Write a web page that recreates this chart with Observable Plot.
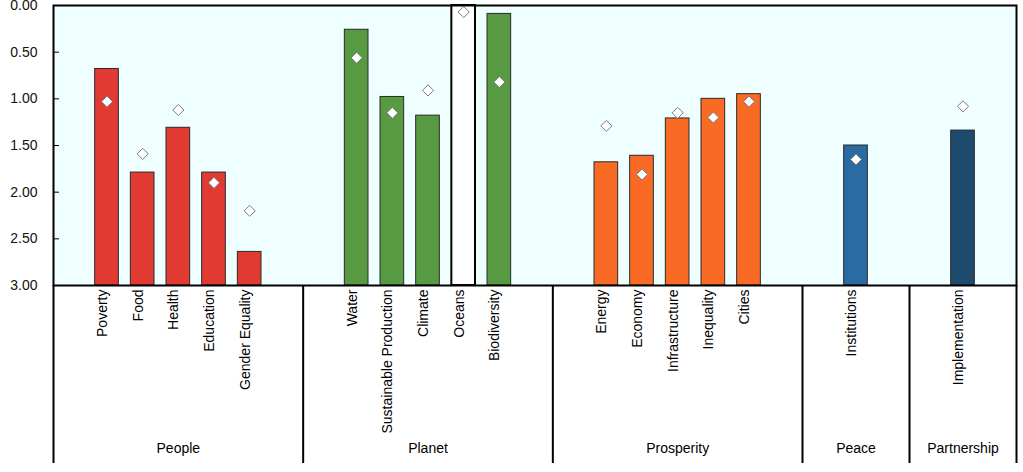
<!DOCTYPE html>
<html>
<head>
<meta charset="utf-8">
<script src="https://cdn.jsdelivr.net/npm/d3@7"></script>
<script src="https://cdn.jsdelivr.net/npm/@observablehq/plot@0.6"></script>
<style>
  html, body { margin: 0; padding: 0; background: white; }
</style>
</head>
<body>
<div id="chart"></div>
<script>
const groups = ["People", "Planet", "Prosperity", "Peace", "Partnership"];
const groupColors = ["#E03A32", "#579A42", "#F96B25", "#2A6BA3", "#1D4A6F"];
const categories = ["Poverty", "Food", "Health", "Education", "Gender Equality",
  "Water", "Sustainable Production", "Climate", "Oceans", "Biodiversity",
  "Energy", "Economy", "Infrastructure", "Inequality", "Cities",
  "Institutions", "Implementation"];
const categoryGroup = ["People", "People", "People", "People", "People",
  "Planet", "Planet", "Planet", "Planet", "Planet",
  "Prosperity", "Prosperity", "Prosperity", "Prosperity", "Prosperity",
  "Peace", "Partnership"];
// distance values (bars); null = no data (drawn as empty white column)
const barValues = [0.68, 1.79, 1.31, 1.79, 2.64,
  0.26, 0.98, 1.18, null, 0.09,
  1.68, 1.61, 1.21, 1.00, 0.95,
  1.50, 1.34];
// diamond markers
const markerValues = [1.03, 1.59, 1.12, 1.90, 2.20,
  0.56, 1.15, 0.91, 0.07, 0.82,
  1.29, 1.81, 1.15, 1.20, 1.03,
  1.65, 1.08];
const yTicks = [0, 0.5, 1, 1.5, 2, 2.5, 3];

// build slot layout: one empty slot on each side of every group
const rows = [];
const bounds = [0];
const groupMid = [];
let slot = 0;
groups.forEach((g, gi) => {
  const start = slot;
  slot += 1;
  categories.forEach((c, i) => {
    if (categoryGroup[i] === g) {
      rows.push({category: c, group: g, color: groupColors[gi], bar: barValues[i], marker: markerValues[i], slot});
      slot += 1;
    }
  });
  slot += 1;
  bounds.push(slot);
  groupMid.push({group: g, x: (start + slot) / 2});
});

const chart = Plot.plot({
  width: 1023,
  height: 472,
  marginLeft: 53,
  marginRight: 7,
  marginTop: 5,
  marginBottom: 187,
  style: {fontFamily: "'Liberation Sans', Arial, sans-serif", fontSize: "14px", color: "#000", background: "white"},
  x: {domain: [0, slot], axis: null},
  y: {domain: [0, 3], reverse: true, axis: null},
  marks: [
    Plot.frame({fill: "#EFFFFF", stroke: null}),
    Plot.rect(rows.filter(d => d.bar == null), {
      x1: d => d.slot, x2: d => d.slot + 1, y1: 0, y2: 3,
      insetLeft: 6, insetRight: 6, fill: "white", stroke: "black", strokeWidth: 2
    }),
    Plot.rect(rows.filter(d => d.bar != null), {
      x1: d => d.slot, x2: d => d.slot + 1, y1: "bar", y2: 3,
      insetLeft: 6, insetRight: 6, fill: d => d.color, stroke: "#2a2a2a", strokeWidth: 1
    }),
    Plot.axisY(yTicks, {
      anchor: "left", tickSize: -6, tickPadding: 22,
      tickFormat: d3.format(".2f"), fontSize: 14, fill: "#111"
    }),
    Plot.dot(rows, {
      x: d => d.slot + 0.5, y: "marker", symbol: "diamond2", r: 5,
      fill: "white", stroke: "#7a7a7a", strokeWidth: 1
    }),
    Plot.frame({stroke: "black", strokeWidth: 2}),
    Plot.ruleX(bounds, {x: d => d, insetTop: 280, insetBottom: -178, stroke: "black", strokeWidth: 2}),
    Plot.text(rows, {
      x: d => d.slot + 0.5, text: "category", frameAnchor: "bottom",
      rotate: -90, textAnchor: "end", dy: 4, fontSize: 14, fill: "#000"
    }),
    Plot.text(groupMid, {
      x: "x", text: "group", frameAnchor: "bottom", dy: 167, fontSize: 14, fill: "#000"
    })
  ]
});
document.getElementById("chart").appendChild(chart);
</script>
</body>
</html>
